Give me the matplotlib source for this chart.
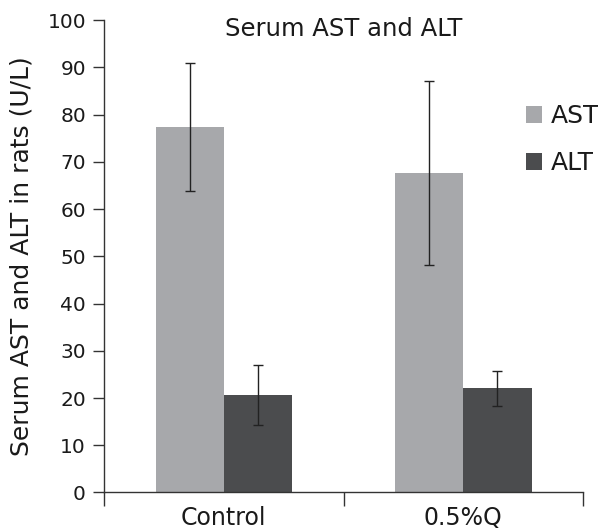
import matplotlib
matplotlib.use("Agg")
import matplotlib.pyplot as plt
import numpy as np

categories = ["Control", "0.5%Q"]
series_names = ["AST", "ALT"]
ast_values = [77.4, 67.6]
ast_errors = [13.6, 19.5]
alt_values = [20.6, 22.1]
alt_errors = [6.3, 3.7]
colors = ["#a7a8ab", "#4b4c4e"]

plt.rcParams['font.family'] = ['DejaVu Sans']
fig = plt.figure(figsize=(5.98, 5.29), dpi=100)
ax = fig.add_axes([0.174, 0.069, 0.801, 0.893])

x = np.arange(len(categories)) + 0.5
w = 0.285
axcol = "#333333"
tcol = "#1a1a1a"
ekw = dict(ecolor="#222222", elinewidth=1, capthick=1)
ax.bar(x - w/2, ast_values, w, color=colors[0], label=series_names[0],
       yerr=ast_errors, capsize=3.6, error_kw=ekw)
ax.bar(x + w/2, alt_values, w, color=colors[1], label=series_names[1],
       yerr=alt_errors, capsize=3.6, error_kw=ekw)

ax.set_xlim(0, 2)
ax.set_ylim(0, 100)
ax.set_yticks(np.arange(0, 101, 10))
ax.set_xticks([0, 1, 2])
ax.set_xticklabels([])
ax.set_xticks(x, minor=True)
ax.set_xticklabels(categories, minor=True, fontsize=17, color=tcol)
ax.tick_params(axis="x", which="minor", length=0, pad=10)
ax.tick_params(axis="x", which="major", length=10, width=1, color=axcol, direction="out")
ax.tick_params(axis="y", length=8, width=1, color=axcol, labelsize=14.5, labelcolor=tcol, pad=5)

for s in ["top", "right"]:
    ax.spines[s].set_visible(False)
for s in ["left", "bottom"]:
    ax.spines[s].set_color(axcol)
    ax.spines[s].set_linewidth(1)

ax.set_ylabel("Serum AST and ALT in rats (U/L)", fontsize=18, color=tcol, labelpad=10)
ax.text(1.0, 100.6, "Serum AST and ALT", ha="center", va="top", fontsize=17.5,
        color=tcol, clip_on=False)

leg = fig.legend(loc="upper left", bbox_to_anchor=(0.879, 0.8025), frameon=False, fontsize=18,
                 handlelength=0.65, handleheight=0.65, handletextpad=0.36, labelspacing=0.92,
                 borderpad=0, borderaxespad=0)
for t in leg.get_texts():
    t.set_color(tcol)

fig.savefig("out.png", dpi=100)
